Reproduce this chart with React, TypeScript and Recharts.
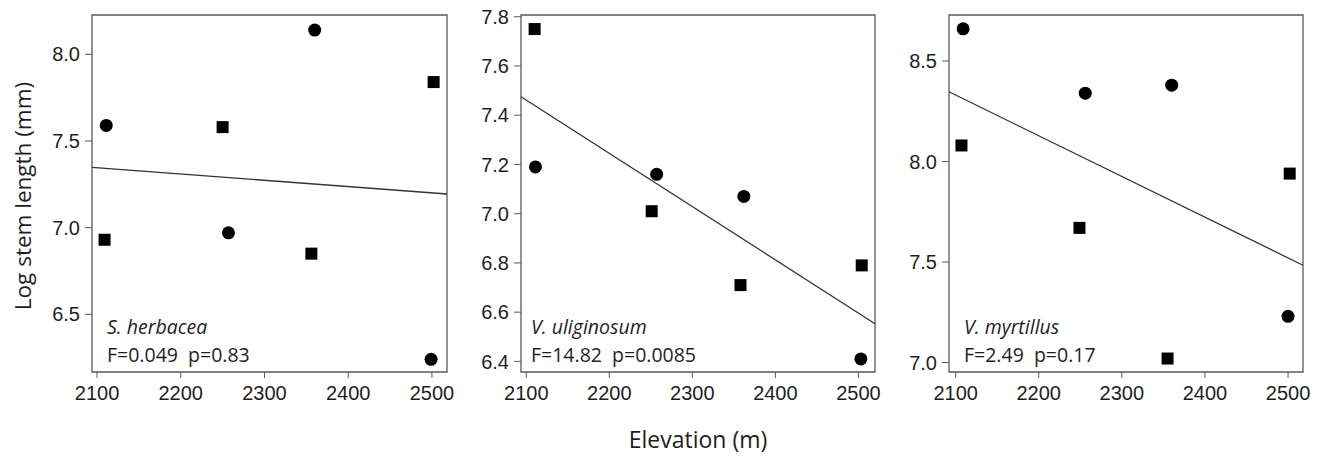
import React from 'react';
import {
  ScatterChart,
  Scatter,
  XAxis,
  YAxis,
  ReferenceLine,
  ReferenceArea,
} from 'recharts';

// elevation (m) and log stem length (mm)
const herbaceaCircles = [
  { x: 2111, y: 7.59 },
  { x: 2257, y: 6.97 },
  { x: 2360, y: 8.14 },
  { x: 2499, y: 6.24 },
];
const herbaceaSquares = [
  { x: 2109, y: 6.93 },
  { x: 2250, y: 7.58 },
  { x: 2356, y: 6.85 },
  { x: 2502, y: 7.84 },
];
const herbaceaFit = [
  { x: 2094, y: 7.348 },
  { x: 2518, y: 7.194 },
];

const uliginosumCircles = [
  { x: 2111, y: 7.19 },
  { x: 2257, y: 7.16 },
  { x: 2362, y: 7.07 },
  { x: 2503, y: 6.41 },
];
const uliginosumSquares = [
  { x: 2110, y: 7.75 },
  { x: 2251, y: 7.01 },
  { x: 2358, y: 6.71 },
  { x: 2504, y: 6.79 },
];
const uliginosumFit = [
  { x: 2093.6, y: 7.475 },
  { x: 2520, y: 6.553 },
];

const myrtillusCircles = [
  { x: 2109, y: 8.66 },
  { x: 2256, y: 8.34 },
  { x: 2360, y: 8.38 },
  { x: 2500, y: 7.23 },
];
const myrtillusSquares = [
  { x: 2107, y: 8.08 },
  { x: 2249, y: 7.67 },
  { x: 2355, y: 7.02 },
  { x: 2502, y: 7.94 },
];
const myrtillusFit = [
  { x: 2092, y: 8.347 },
  { x: 2518, y: 7.484 },
];

const xTicks = [2100, 2200, 2300, 2400, 2500];
const yTicks1 = [6.5, 7.0, 7.5, 8.0];
const yTicks2 = [6.4, 6.6, 6.8, 7.0, 7.2, 7.4, 7.6, 7.8];
const yTicks3 = [7.0, 7.5, 8.0, 8.5];

const BOX = '#5a5a5a';
const TEXT = '#1e1e1e';
const PLOT_TOP = 15;
const PLOT_H = 357;
const Y_AXIS_W = 60;
const RIGHT = 24;

const Circle = (props: any) => {
  const { cx, cy } = props;
  if (cx == null || cy == null) return null;
  return <circle cx={cx} cy={cy} r={6.5} fill="#000" />;
};

const Square = (props: any) => {
  const { cx, cy } = props;
  if (cx == null || cy == null) return null;
  return <rect x={cx - 6} y={cy - 6} width={12} height={12} fill="#000" />;
};

interface PanelProps {
  plotLeft: number;
  plotRight: number;
  xDomain: [number, number];
  yDomain: [number, number];
  yTicks: number[];
  circles: { x: number; y: number }[];
  squares: { x: number; y: number }[];
  fit: { x: number; y: number }[];
}

const Panel: React.FC<PanelProps> = ({
  plotLeft,
  plotRight,
  xDomain,
  yDomain,
  yTicks,
  circles,
  squares,
  fit,
}) => {
  const width = plotRight - plotLeft + Y_AXIS_W + RIGHT;
  const height = PLOT_TOP + PLOT_H + 45;
  return (
    <div style={{ position: 'absolute', left: plotLeft - Y_AXIS_W, top: 0 }}>
      <ScatterChart
        width={width}
        height={height}
        margin={{ top: PLOT_TOP, right: RIGHT, left: 0, bottom: 0 }}
      >
        <XAxis
          type="number"
          dataKey="x"
          domain={xDomain}
          ticks={xTicks}
          allowDataOverflow
          height={45}
          axisLine={false}
          tickLine={{ stroke: BOX }}
          tickSize={6}
          tickMargin={8}
          tick={{ fill: TEXT, fontSize: 20, fontFamily: 'Liberation Sans, Arial, sans-serif' }}
        />
        <YAxis
          type="number"
          dataKey="y"
          domain={yDomain}
          ticks={yTicks}
          allowDataOverflow
          width={Y_AXIS_W}
          axisLine={false}
          tickLine={{ stroke: BOX }}
          tickSize={7}
          tickMargin={5}
          tickFormatter={(v: number) => v.toFixed(1)}
          tick={{ fill: TEXT, fontSize: 20, fontFamily: 'Liberation Sans, Arial, sans-serif' }}
        />
        <ReferenceArea
          x1={xDomain[0]}
          x2={xDomain[1]}
          y1={yDomain[0]}
          y2={yDomain[1]}
          fill="none"
          stroke={BOX}
          strokeWidth={1.3}
          ifOverflow="visible"
        />
        <ReferenceLine
          segment={[fit[0], fit[1]]}
          stroke="#333"
          strokeWidth={1.3}
          ifOverflow="visible"
        />
        <Scatter data={circles} shape={Circle} isAnimationActive={false} />
        <Scatter data={squares} shape={Square} isAnimationActive={false} />
      </ScatterChart>
    </div>
  );
};

const FONT = '"Open Sans", "Noto Sans", sans-serif';

export default function App() {
  return (
    <div style={{ position: 'relative', width: 1320, height: 457, background: '#fff' }}>
      <style>{'body{margin:0}'}</style>
      <Panel
        plotLeft={92}
        plotRight={447}
        xDomain={[2094, 2518]}
        yDomain={[6.167, 8.227]}
        yTicks={yTicks1}
        circles={herbaceaCircles}
        squares={herbaceaSquares}
        fit={herbaceaFit}
      />
      <Panel
        plotLeft={521}
        plotRight={875}
        xDomain={[2093.6, 2520]}
        yDomain={[6.357, 7.807]}
        yTicks={yTicks2}
        circles={uliginosumCircles}
        squares={uliginosumSquares}
        fit={uliginosumFit}
      />
      <Panel
        plotLeft={949}
        plotRight={1303}
        xDomain={[2092, 2518]}
        yDomain={[6.953, 8.729]}
        yTicks={yTicks3}
        circles={myrtillusCircles}
        squares={myrtillusSquares}
        fit={myrtillusFit}
      />
      <svg
        width={1320}
        height={457}
        style={{ position: 'absolute', left: 0, top: 0, pointerEvents: 'none' }}
      >
        <g fontFamily={FONT} fill={TEXT} fontSize={19.5}>
          <text x={107} y={334} fontStyle="italic">S. herbacea</text>
          <text x={107} y={362} xmlSpace="preserve">F=0.049  p=0.83</text>
          <text x={531} y={334} fontStyle="italic">V. uliginosum</text>
          <text x={531} y={362} xmlSpace="preserve">F=14.82  p=0.0085</text>
          <text x={964} y={334} fontStyle="italic">V. myrtillus</text>
          <text x={964} y={362} xmlSpace="preserve">F=2.49  p=0.17</text>
        </g>
        <text x={698} y={448} textAnchor="middle" fontFamily={FONT} fontSize={23} fill={TEXT}>
          Elevation (m)
        </text>
        <text
          x={0}
          y={0}
          transform="translate(31,196) rotate(-90)"
          textAnchor="middle"
          fontFamily={FONT}
          fontSize={22.5}
          fill={TEXT}
        >
          Log stem length (mm)
        </text>
      </svg>
    </div>
  );
}
